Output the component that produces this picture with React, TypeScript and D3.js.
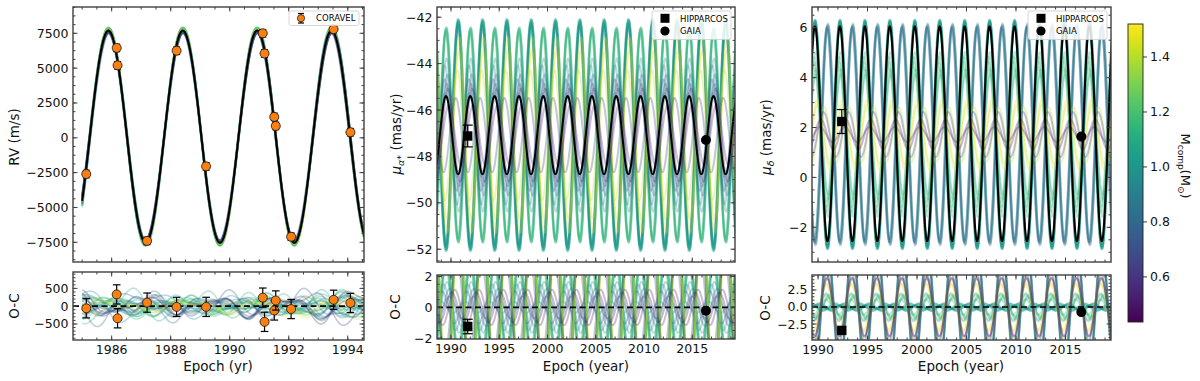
import React from 'react';
import * as d3 from 'd3';

// orbital period (yr) shared by every model curve
const PERIOD = 2.52;

// best-fit orbit (black curves)
const rvBest = { k: 7620, off: 80, tp: 1990.93 };
const raBest = { amp: 1.68, c: -47.08, tp: 1989.48 };
const decBest = { amp: 4.3, c: 1.75, tp: 1989.69 };

// posterior samples (coloured curves), one entry per sample
const sampleMass = [1.02, 0.98, 1.06, 1.01, 0.95, 1.08, 1.04, 1.00, 1.05, 0.97, 1.12, 1.16, 1.08, 1.14, 1.10, 1.18, 0.76, 0.95, 0.82, 1.0, 0.9, 0.72, 1.45, 1.40, 1.48, 0.55, 0.62, 0.50];
const rvDeltaK = [120, -80, 160, 40, -150, 200, 90, -40, 150, -120, 180, 150, 60, 220, -60, 140, -200, -120, -100, -80, 30, -220, 90, 60, 110, -150, -120, -180];
const rvShift = [0.004, -0.006, 0.008, -0.003, 0.01, -0.008, 0.005, -0.01, 0.002, 0.007, -0.005, 0.009, -0.007, 0.003, 0.012, -0.004, 0.006, -0.009, 0.011, -0.002, 0.004, -0.012, 0.008, -0.006, 0.003, 0.009, -0.011, 0.005];
const rvDeltaP = [0.002, -0.004, 0.006, -0.001, 0.003, -0.006, 0.008, 0.001, -0.003, 0.005, -0.008, 0.004, -0.002, 0.007, -0.005, 0.003, -0.007, 0.006, 0.002, -0.004, 0.009, -0.003, 0.005, -0.006, 0.001, 0.01, -0.009, 0.004];
const rvHarm = [80, -120, 150, -60, 100, -140, 60, 120, -90, 170, -50, 130, -110, 90, -160, 70, 140, -80, 110, -130, 50, 160, -100, 120, -70, 150, -140, 90];
const raAmp = [-4.95, -4.85, -5.0, -4.9, -4.75, -4.95, -4.8, -4.9, -5.0, -4.7, 4.6, 4.5, 4.65, 4.4, 4.55, 4.6, 2.2, 3.0, 2.6, 1.8, 3.3, 2.4, -3.6, -2.8, -4.2, 1.3, -1.6, 2.0];
const raShift = [0.03, -0.04, 0.05, 0.0, -0.06, 0.04, -0.02, 0.06, -0.05, 0.01, 0.02, -0.05, 0.06, -0.03, 0.04, 0.0, 0.1, -0.12, 0.15, -0.08, 0.05, -0.15, 0.08, -0.1, 0.12, 0.3, -0.25, 0.2];
const decAmp = [4.55, 4.5, 4.6, 4.45, 4.5, 4.6, 4.55, 4.4, 4.58, 4.5, 2.6, 3.1, 2.4, 2.9, 3.3, 2.7, -4.35, -4.3, -4.4, -4.2, -4.45, -4.3, 1.2, -1.1, 1.4, 0.3, -0.9, 0.6];
const decShift = [0.02, -0.03, 0.04, -0.01, 0.05, -0.04, 0.01, -0.05, 0.03, 0.0, 0.08, -0.06, 0.1, -0.08, 0.05, -0.1, 0.03, -0.05, 0.06, -0.02, 0.04, -0.06, 0.3, -0.35, 0.25, 0.5, -0.4, 0.6];

// CORAVEL radial velocities
const coravelEpoch = [1985.14, 1986.17, 1986.2, 1987.2, 1988.2, 1989.2, 1991.12, 1991.18, 1991.51, 1991.56, 1992.08, 1993.52, 1994.09];
const coravelRv = [-2600, 6450, 5200, -7400, 6250, -2050, 7500, 6050, 1500, 850, -7100, 7800, 400];
const coravelOc = [-60, 330, -340, 100, -20, -20, 240, -440, -120, 160, -80, 180, 90];
const coravelErr = 270;

// HIPPARCOS / GAIA proper motions
const raEpoch = [1991.73, 2016.42];
const raValue = [-47.12, -47.29];
const raOc = [-1.24, -0.22];
const raErr = [0.47, 0.06];
const decEpoch = [1992.4, 2016.6];
const decValue = [2.24, 1.64];
const decOc = [-3.44, -0.75];
const decErr = [0.48, 0.06];

// ticks
const rvTicks = [-7500, -5000, -2500, 0, 2500, 5000, 7500];
const rvOcTicks = [-500, 0, 500];
const yearTicks1 = [1986, 1988, 1990, 1992, 1994];
const yearTicks2 = [1990, 1995, 2000, 2005, 2010, 2015];
const raTicks = [-52, -50, -48, -46, -44, -42];
const raOcTicks = [-2, 0, 2];
const decTicks = [-2, 0, 2, 4, 6];
const decOcTicks = [-2.5, 0, 2.5];
const cbarTicks = [0.6, 0.8, 1.0, 1.2, 1.4];

const FONT = 'DejaVu Sans';
const FRAME = '#404040';
const TAU = Math.PI * 2;

const mfmt = (d: number, p = 0) => d.toFixed(p).replace('-', '\u2212');
const color = d3.scaleSequential(d3.interpolateViridis).domain([0.43, 1.52]);

const rvModel = (i: number | null) => (t: number) => {
  if (i === null) return rvBest.off + rvBest.k * Math.cos(TAU * (t - rvBest.tp) / PERIOD);
  return rvBest.off + (rvBest.k + rvDeltaK[i]) * Math.cos(TAU * (t - rvBest.tp - rvShift[i]) / (PERIOD + rvDeltaP[i]))
    + rvHarm[i] * Math.sin(2 * TAU * (t - rvBest.tp) / PERIOD);
};
const raModel = (i: number | null) => (t: number) => i === null
  ? raBest.c + raBest.amp * Math.cos(TAU * (t - raBest.tp) / PERIOD)
  : raBest.c + raAmp[i] * Math.cos(TAU * (t - raBest.tp - raShift[i]) / PERIOD);
const decModel = (i: number | null) => (t: number) => i === null
  ? decBest.c + decBest.amp * Math.cos(TAU * (t - decBest.tp) / PERIOD)
  : 1.72 + decAmp[i] * Math.cos(TAU * (t - decBest.tp - decShift[i]) / PERIOD);

type Sc = d3.ScaleLinear<number, number>;

function Axes({ x, y, xMajor, xMinor, yMajor, yMinor, yFmt, showX }: {
  x: Sc; y: Sc; xMajor: number[]; xMinor: number[]; yMajor: number[]; yMinor: number[];
  yFmt: (v: number) => string; showX: boolean;
}) {
  const [x0, x1] = x.range();
  const [yb, yt] = y.range();
  const inX = (v: number) => v >= x.domain()[0] && v <= x.domain()[1];
  const inY = (v: number) => v >= y.domain()[0] && v <= y.domain()[1];
  const ticks: JSX.Element[] = [];
  xMinor.filter(inX).forEach((v, k) => {
    const px = x(v);
    ticks.push(<line key={'xm' + k} x1={px} x2={px} y1={yb} y2={yb - 2.5} />);
    ticks.push(<line key={'xmt' + k} x1={px} x2={px} y1={yt} y2={yt + 2.5} />);
  });
  xMajor.filter(inX).forEach((v, k) => {
    const px = x(v);
    ticks.push(<line key={'xM' + k} x1={px} x2={px} y1={yb} y2={yb - 4.5} />);
    ticks.push(<line key={'xMt' + k} x1={px} x2={px} y1={yt} y2={yt + 4.5} />);
  });
  yMinor.filter(inY).forEach((v, k) => {
    const py = y(v);
    ticks.push(<line key={'ym' + k} x1={x0} x2={x0 + 2.5} y1={py} y2={py} />);
    ticks.push(<line key={'ymr' + k} x1={x1} x2={x1 - 2.5} y1={py} y2={py} />);
  });
  yMajor.filter(inY).forEach((v, k) => {
    const py = y(v);
    ticks.push(<line key={'yM' + k} x1={x0} x2={x0 + 4.5} y1={py} y2={py} />);
    ticks.push(<line key={'yMr' + k} x1={x1} x2={x1 - 4.5} y1={py} y2={py} />);
  });
  return (
    <g>
      <g stroke={FRAME} strokeWidth={1}>{ticks}</g>
      <rect x={x0} y={yt} width={x1 - x0} height={yb - yt} fill="none" stroke={FRAME} strokeWidth={1.4} />
      <g fontFamily={FONT} fontSize={12.5} fill="#111">
        {yMajor.filter(inY).map((v) => (
          <text key={'yl' + v} x={x0 - 4.5} y={y(v)} textAnchor="end" dominantBaseline="central">{yFmt(v)}</text>
        ))}
        {showX && xMajor.filter(inX).map((v) => (
          <text key={'xl' + v} x={x(v)} y={yb + 14} textAnchor="middle">{String(v)}</text>
        ))}
      </g>
    </g>
  );
}

function ErrPoint({ cx, lo, hi, cap, children }: { cx: number; lo: number; hi: number; cap: number; children: React.ReactNode }) {
  return (
    <g>
      <g stroke="#000" strokeWidth={1.2}>
        <line x1={cx} x2={cx} y1={lo} y2={hi} />
        <line x1={cx - cap} x2={cx + cap} y1={lo} y2={lo} />
        <line x1={cx - cap} x2={cx + cap} y1={hi} y2={hi} />
      </g>
      {children}
    </g>
  );
}

const linePath = (ts: number[], f: (t: number) => number, x: Sc, y: Sc) =>
  d3.line<number>().x((t) => x(t)).y((t) => y(f(t)))(ts) || '';

const idx = sampleMass.map((_, i) => i);

export default function App() {
  // ---------- panel 1: RV ----------
  const x1 = d3.scaleLinear().domain([1984.69, 1994.55]).range([73, 364]);
  const y1 = d3.scaleLinear().domain([-8914, 9388]).range([262, 7]);
  const y1b = d3.scaleLinear().domain([-950, 960]).range([340, 272]);
  const tRv = d3.range(1985.0, 1994.7, 0.005);

  // ---------- panel 2: pm ra ----------
  const x2 = d3.scaleLinear().domain([1988.55, 2019.43]).range([437, 735]);
  const y2 = d3.scaleLinear().domain([-52.55, -41.56]).range([262, 7]);
  const y2b = d3.scaleLinear().domain([-2.05, 2.1]).range([339, 275]);
  const tRa = d3.range(1988.4, 2019.6, 0.01);

  // ---------- panel 3: pm dec ----------
  const x3 = d3.scaleLinear().domain([1989.39, 2019.6]).range([812, 1111]);
  const y3 = d3.scaleLinear().domain([-3.39, 6.83]).range([262, 7]);
  const y3b = d3.scaleLinear().domain([-4.85, 4.7]).range([340, 275]);
  const tDec = d3.range(1989.2, 2019.8, 0.01);

  const clip = (id: string, x: Sc, y: Sc) => {
    const [a, b] = x.range();
    const [c, d] = y.range();
    return <clipPath id={id}><rect x={a} y={d} width={b - a} height={c - d} /></clipPath>;
  };

  const sampleStyle = (i: number) => ({ fill: 'none', stroke: color(sampleMass[i]), strokeWidth: 2, strokeOpacity: 0.3 });

  const cbY = d3.scaleLinear().domain([0.436, 1.52]).range([322, 24]);

  return (
    <svg width={1200} height={381} style={{ position: 'absolute', left: 0, top: 0, background: '#fff' }}>
      <defs>
        {clip('c1', x1, y1)}
        {clip('c1b', x1, y1b)}
        {clip('c2', x2, y2)}
        {clip('c2b', x2, y2b)}
        {clip('c3', x3, y3)}
        {clip('c3b', x3, y3b)}
        <linearGradient id="viridis" x1="0" y1="1" x2="0" y2="0">
          {d3.range(0, 1.0001, 0.05).map((t) => (
            <stop key={t} offset={t} stopColor={d3.interpolateViridis(t)} />
          ))}
        </linearGradient>
      </defs>

      {/* ===== Panel 1 top ===== */}
      <g clipPath="url(#c1)">
        {idx.map((i) => <path key={i} d={linePath(tRv, rvModel(i), x1, y1)} {...sampleStyle(i)} />)}
        <path d={linePath(tRv, rvModel(null), x1, y1)} fill="none" stroke="#000" strokeWidth={2} />
        {coravelEpoch.map((t, k) => (
          <ErrPoint key={k} cx={x1(t)} lo={y1(coravelRv[k] - coravelErr)} hi={y1(coravelRv[k] + coravelErr)} cap={3.5}>
            <circle cx={x1(t)} cy={y1(coravelRv[k])} r={4.5} fill="#ff7f0e" stroke="#222" strokeWidth={0.9} />
          </ErrPoint>
        ))}
      </g>
      <Axes x={x1} y={y1} xMajor={yearTicks1} xMinor={d3.range(1984, 1995.01, 0.5)} yMajor={rvTicks}
        yMinor={d3.range(-10000, 10001, 625)} yFmt={(v) => mfmt(v)} showX={false} />
      <g>
        <rect x={289} y={11} width={70} height={14.5} rx={2} fill="#fff" fillOpacity={0.85} stroke="#ccc" strokeWidth={0.8} />
        <ErrPoint cx={301} lo={13.5} hi={23} cap={3}>
          <circle cx={301} cy={18.2} r={3.6} fill="#ff7f0e" stroke="#222" strokeWidth={0.8} />
        </ErrPoint>
        <text x={316} y={21.3} fontFamily={FONT} fontSize={8.5}>CORAVEL</text>
      </g>

      {/* ===== Panel 1 bottom ===== */}
      <g clipPath="url(#c1b)">
        {idx.map((i) => {
          const f = rvModel(i), g = rvModel(null);
          return <path key={i} d={linePath(tRv, (t) => f(t) - g(t), x1, y1b)} {...sampleStyle(i)} strokeWidth={1.6} />;
        })}
        <line x1={73} x2={364} y1={y1b(0)} y2={y1b(0)} stroke="#000" strokeWidth={1.7} strokeDasharray="6,3.5" />
        {coravelEpoch.map((t, k) => (
          <ErrPoint key={k} cx={x1(t)} lo={y1b(coravelOc[k] - coravelErr)} hi={y1b(coravelOc[k] + coravelErr)} cap={3.8}>
            <circle cx={x1(t)} cy={y1b(coravelOc[k])} r={4.5} fill="#ff7f0e" stroke="#222" strokeWidth={0.9} />
          </ErrPoint>
        ))}
      </g>
      <Axes x={x1} y={y1b} xMajor={yearTicks1} xMinor={d3.range(1984, 1995.01, 0.5)} yMajor={rvOcTicks}
        yMinor={d3.range(-1000, 1001, 100)} yFmt={(v) => mfmt(v)} showX={true} />

      {/* ===== Panel 2 top ===== */}
      <g clipPath="url(#c2)">
        {idx.map((i) => <path key={i} d={linePath(tRa, raModel(i), x2, y2)} {...sampleStyle(i)} />)}
        <path d={linePath(tRa, raModel(null), x2, y2)} fill="none" stroke="#000" strokeWidth={2} />
        <ErrPoint cx={x2(raEpoch[0])} lo={y2(raValue[0] - raErr[0])} hi={y2(raValue[0] + raErr[0])} cap={5}>
          <rect x={x2(raEpoch[0]) - 4.7} y={y2(raValue[0]) - 4.7} width={9.4} height={9.4} fill="#000" />
        </ErrPoint>
        <ErrPoint cx={x2(raEpoch[1])} lo={y2(raValue[1] - raErr[1])} hi={y2(raValue[1] + raErr[1])} cap={3}>
          <circle cx={x2(raEpoch[1])} cy={y2(raValue[1])} r={5} fill="#000" />
        </ErrPoint>
      </g>
      <Axes x={x2} y={y2} xMajor={yearTicks2} xMinor={d3.range(1985, 2021, 1)} yMajor={raTicks}
        yMinor={d3.range(-54, -40, 0.5)} yFmt={(v) => mfmt(v)} showX={false} />
      <g fontFamily={FONT} fontSize={8.5}>
        <rect x={652} y={11} width={79} height={28.5} rx={2} fill="#fff" fillOpacity={0.85} stroke="#ccc" strokeWidth={0.8} />
        <rect x={660.5} y={13.8} width={9} height={9} fill="#000" />
        <text x={680} y={21.5}>HIPPARCOS</text>
        <circle cx={665} cy={31} r={4.6} fill="#000" />
        <text x={680} y={34.2}>GAIA</text>
      </g>

      {/* ===== Panel 2 bottom ===== */}
      <g clipPath="url(#c2b)">
        {idx.map((i) => {
          const f = raModel(i), g = raModel(null);
          return <path key={i} d={linePath(tRa, (t) => f(t) - g(t), x2, y2b)} {...sampleStyle(i)} />;
        })}
        <line x1={437} x2={735} y1={y2b(0)} y2={y2b(0)} stroke="#000" strokeWidth={1.7} strokeDasharray="6,3.5" />
        <ErrPoint cx={x2(raEpoch[0])} lo={y2b(raOc[0] - raErr[0])} hi={y2b(raOc[0] + raErr[0])} cap={5}>
          <rect x={x2(raEpoch[0]) - 4.7} y={y2b(raOc[0]) - 4.7} width={9.4} height={9.4} fill="#000" />
        </ErrPoint>
        <circle cx={x2(raEpoch[1])} cy={y2b(raOc[1])} r={5} fill="#000" />
      </g>
      <Axes x={x2} y={y2b} xMajor={yearTicks2} xMinor={d3.range(1985, 2021, 1)} yMajor={raOcTicks}
        yMinor={d3.range(-3, 3.01, 0.5)} yFmt={(v) => mfmt(v)} showX={true} />

      {/* ===== Panel 3 top ===== */}
      <g clipPath="url(#c3)">
        {idx.map((i) => <path key={i} d={linePath(tDec, decModel(i), x3, y3)} {...sampleStyle(i)} />)}
        <path d={linePath(tDec, decModel(null), x3, y3)} fill="none" stroke="#000" strokeWidth={2} />
        <ErrPoint cx={x3(decEpoch[0])} lo={y3(decValue[0] - decErr[0])} hi={y3(decValue[0] + decErr[0])} cap={5}>
          <rect x={x3(decEpoch[0]) - 4.7} y={y3(decValue[0]) - 4.7} width={9.4} height={9.4} fill="#000" />
        </ErrPoint>
        <circle cx={x3(decEpoch[1])} cy={y3(decValue[1])} r={5} fill="#000" />
      </g>
      <Axes x={x3} y={y3} xMajor={yearTicks2} xMinor={d3.range(1985, 2021, 1)} yMajor={decTicks}
        yMinor={d3.range(-4, 7.01, 0.5)} yFmt={(v) => mfmt(v)} showX={false} />
      <g fontFamily={FONT} fontSize={8.5}>
        <rect x={1028} y={11} width={79} height={28.5} rx={2} fill="#fff" fillOpacity={0.85} stroke="#ccc" strokeWidth={0.8} />
        <rect x={1036.5} y={13.8} width={9} height={9} fill="#000" />
        <text x={1056} y={21.5}>HIPPARCOS</text>
        <circle cx={1041} cy={31} r={4.6} fill="#000" />
        <text x={1056} y={34.2}>GAIA</text>
      </g>

      {/* ===== Panel 3 bottom ===== */}
      <g clipPath="url(#c3b)">
        {idx.map((i) => {
          const f = decModel(i), g = decModel(null);
          return <path key={i} d={linePath(tDec, (t) => f(t) - g(t), x3, y3b)} {...sampleStyle(i)} />;
        })}
        <line x1={812} x2={1111} y1={y3b(0)} y2={y3b(0)} stroke="#000" strokeWidth={1.7} strokeDasharray="6,3.5" />
        <rect x={x3(decEpoch[0]) - 4.7} y={y3b(decOc[0]) - 4.7} width={9.4} height={9.4} fill="#000" />
        <circle cx={x3(decEpoch[1])} cy={y3b(decOc[1])} r={5} fill="#000" />
      </g>
      <Axes x={x3} y={y3b} xMajor={yearTicks2} xMinor={d3.range(1985, 2021, 1)} yMajor={decOcTicks}
        yMinor={d3.range(-5, 5.01, 0.5)} yFmt={(v) => mfmt(v, 1)} showX={true} />

      {/* ===== axis labels ===== */}
      <g fontFamily={FONT} fontSize={13.5} fill="#111">
        <text transform="translate(19,137) rotate(-90)" textAnchor="middle">RV (m/s)</text>
        <text transform="translate(19,306) rotate(-90)" textAnchor="middle">O-C</text>
        <text x={218} y={371} textAnchor="middle">Epoch (yr)</text>

        <text transform="translate(401,134) rotate(-90)" textAnchor="middle">
          <tspan fontStyle="italic">μ</tspan>
          <tspan fontStyle="italic" fontSize={9.5} dy={3}>α</tspan>
          <tspan fontSize={9.5}>*</tspan>
          <tspan dy={-3}> (mas/yr)</tspan>
        </text>
        <text transform="translate(400,307) rotate(-90)" textAnchor="middle">O-C</text>
        <text x={586} y={371} textAnchor="middle">Epoch (year)</text>

        <text transform="translate(771,137) rotate(-90)" textAnchor="middle">
          <tspan fontStyle="italic">μ</tspan>
          <tspan fontStyle="italic" fontSize={9.5} dy={3}>δ</tspan>
          <tspan dy={-3}> (mas/yr)</tspan>
        </text>
        <text transform="translate(770,308) rotate(-90)" textAnchor="middle">O-C</text>
        <text x={961} y={371} textAnchor="middle">Epoch (year)</text>
      </g>

      {/* ===== colour bar ===== */}
      <rect x={1128} y={24} width={15} height={298} fill="url(#viridis)" stroke="#222" strokeWidth={0.9} />
      <g fontFamily={FONT} fontSize={12.5} fill="#111">
        {cbarTicks.map((v) => (
          <g key={v}>
            <line x1={1143} x2={1147} y1={cbY(v)} y2={cbY(v)} stroke="#222" strokeWidth={0.9} />
            <text x={1150} y={cbY(v)} dominantBaseline="central">{v.toFixed(1)}</text>
          </g>
        ))}
        <text transform="translate(1181,166) rotate(90)" textAnchor="middle" fontSize={13}>
          <tspan>M</tspan>
          <tspan fontSize={9} dy={3}>comp</tspan>
          <tspan dy={-3}>(M</tspan>
          <tspan fontSize={9} dy={3}>⊙</tspan>
          <tspan dy={-3}>)</tspan>
        </text>
      </g>
    </svg>
  );
}
